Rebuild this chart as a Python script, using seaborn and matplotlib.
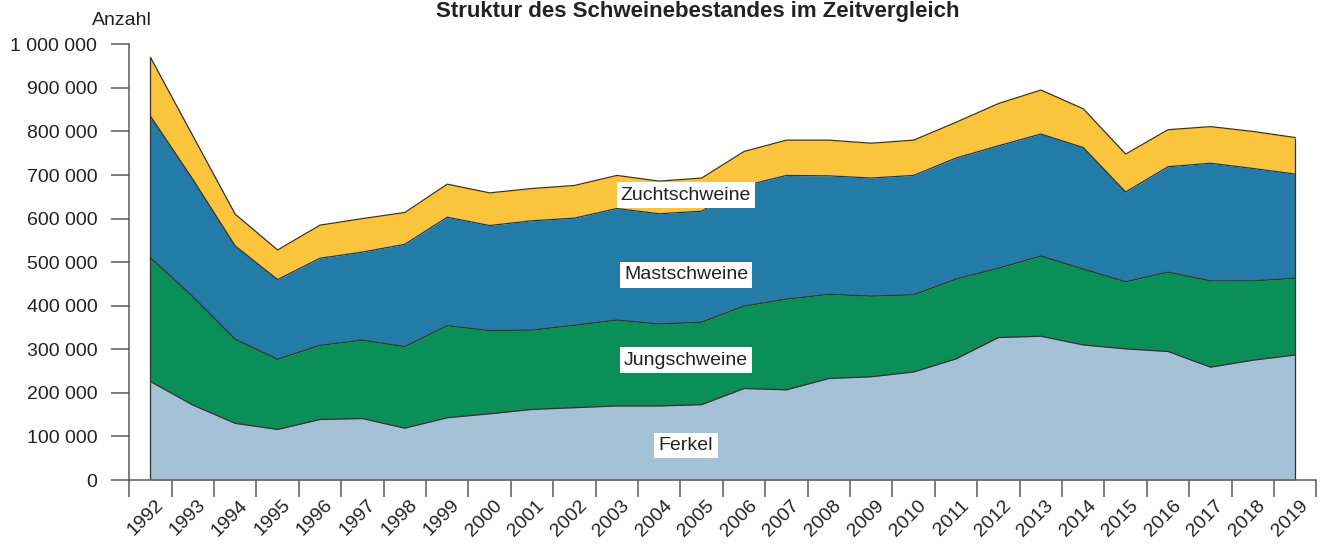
import numpy as np
import pandas as pd
import matplotlib
matplotlib.use("Agg")
import matplotlib.pyplot as plt
import matplotlib.transforms as mtransforms
from matplotlib.ticker import FuncFormatter, MultipleLocator
import seaborn as sns

# Data (Anzahl in Tausend)
years = list(range(1992, 2020))
ferkel = [226, 172, 130, 116, 139, 141, 119, 143, 152, 162, 166, 170, 170, 173,
          210, 207, 233, 237, 248, 278, 327, 330, 310, 301, 295, 259, 275, 287]
jungschweine = [284, 249, 193, 161, 170, 180, 187, 211, 191, 182, 189, 197, 188, 189,
                189, 208, 193, 185, 177, 183, 159, 184, 174, 154, 182, 198, 182, 176]
mastschweine = [325, 269, 214, 183, 200, 202, 235, 249, 241, 251, 246, 256, 253, 255,
                276, 284, 272, 271, 274, 278, 281, 280, 279, 206, 242, 270, 258, 239]
zuchtschweine = [135, 100, 73, 68, 76, 77, 73, 76, 75, 74, 75, 76, 75, 76,
                 79, 81, 82, 80, 81, 82, 97, 101, 89, 87, 85, 84, 85, 84]

series_names = ["Ferkel", "Jungschweine", "Mastschweine", "Zuchtschweine"]
series_colors = ["#a4c1d6", "#0b8f59", "#237ba8", "#fbc43d"]

# Style
sns.set_style("ticks")
plt.rcParams["font.family"] = ["Liberation Sans", "DejaVu Sans"]
plt.rcParams["font.size"] = 14
axis_grey = "#5a5a5a"

values = np.array([ferkel, jungschweine, mastschweine, zuchtschweine]) * 1000
cumulative = values.cumsum(axis=0)

# long table of the layer boundaries
boundaries = pd.DataFrame({
    "Jahr": np.tile(years, len(series_names)),
    "Wert": cumulative.ravel(),
    "Reihe": np.repeat(series_names, len(years)),
})

fig = plt.figure(figsize=(13.31, 5.44), dpi=100)
ax = fig.add_axes([0.0971, 0.1176, 0.8920, 0.8010])

# Filled layers
ax.stackplot(years, values, colors=series_colors, linewidth=0)

# Outlines of the layers
sns.lineplot(data=boundaries, x="Jahr", y="Wert", units="Reihe", estimator=None,
             color="#333333", linewidth=0.9, ax=ax, legend=False)
ax.vlines([years[0], years[-1]], 0, [cumulative[-1, 0], cumulative[-1, -1]],
          color="#333333", linewidth=0.9)

# Labels inside the layers
label_x = 2004.63
label_y = [79000, 275000, 471000, 654000]
for name, y in zip(series_names, label_y):
    ax.text(label_x, y, name, ha="center", va="center", fontsize=14, color="#222222",
            bbox=dict(boxstyle="square,pad=0.22", fc="white", ec="none"))

# Axes
ax.set_xlim(years[0] - 0.5, years[-1] + 0.5)
ax.set_ylim(0, 1000000)
ax.yaxis.set_major_locator(MultipleLocator(100000))
ax.yaxis.set_major_formatter(FuncFormatter(lambda v, p: f"{int(v):,}".replace(",", " ")))

ax.set_xticks(years)
ax.set_xticks(np.arange(years[0] - 0.5, years[-1] + 1), minor=True)
ax.set_xticklabels([str(y) for y in years])
ax.tick_params(axis="x", which="major", length=0, pad=12)
ax.tick_params(axis="x", which="minor", length=12, width=1.1, color=axis_grey)
ax.tick_params(axis="y", which="major", length=13, width=1.1, color=axis_grey, pad=10)
ax.tick_params(axis="both", labelsize=14, labelcolor="#222222")

offset = mtransforms.ScaledTranslation(4 / 100, 0, fig.dpi_scale_trans)
for lab in ax.get_xticklabels():
    lab.set_rotation(45)
    lab.set_ha("right")
    lab.set_va("top")
    lab.set_rotation_mode("anchor")
    lab.set_transform(lab.get_transform() + offset)

for side in ["top", "right"]:
    ax.spines[side].set_visible(False)
for side in ["left", "bottom"]:
    ax.spines[side].set_color(axis_grey)
    ax.spines[side].set_linewidth(1.1)

ax.set_xlabel("")
ax.set_ylabel("")

# Titles
fig.text(121.7 / 1331, 1 - 25 / 544, "Anzahl", ha="center", va="baseline",
         fontsize=14, color="#222222")
fig.text(698 / 1331, 1 - 17 / 544, "Struktur des Schweinebestandes im Zeitvergleich",
         ha="center", va="baseline", fontsize=16, fontweight="bold", color="#222222")

fig.savefig("out.png", dpi=100)
